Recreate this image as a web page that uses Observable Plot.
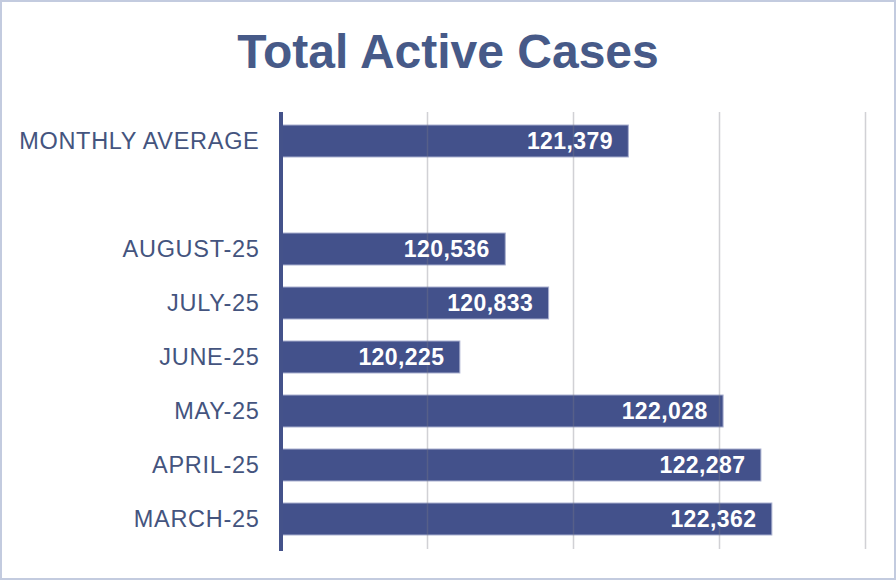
<!DOCTYPE html>
<html>
<head>
<meta charset="utf-8">
<script src="https://cdn.jsdelivr.net/npm/d3@7"></script>
<script src="https://cdn.jsdelivr.net/npm/@observablehq/plot@0.6"></script>
<style>
  html, body { margin: 0; padding: 0; background: #fff; }
  #wrap { position: relative; width: 896px; height: 580px; box-sizing: border-box; border: 2px solid #c3cbdf; background: #fff; overflow: hidden; }
  #title { height: 104px; box-sizing: border-box; padding-top: 26px; text-align: center; font-family: "Liberation Sans Narrow", "Arial Narrow", "Liberation Sans", Arial, sans-serif; font-weight: bold; font-size: 48px; line-height: 48px; color: #475a88; }
  #chart svg { display: block; }
  #chart g[aria-label="y-axis tick label"] { letter-spacing: 0.7px; }
  #chart g[aria-label="text"] { letter-spacing: 0.4px; }
</style>
</head>
<body>
<div id="wrap">
  <div id="title">Total Active Cases</div>
  <div id="chart"></div>
</div>
<script>
// Category order, top to bottom ("" is the blank spacer row)
const categories = ["MONTHLY AVERAGE", "", "AUGUST-25", "JULY-25", "JUNE-25", "MAY-25", "APRIL-25", "MARCH-25"];
const barLabels = ["MONTHLY AVERAGE", "AUGUST-25", "JULY-25", "JUNE-25", "MAY-25", "APRIL-25", "MARCH-25"];
const barValues = [121379, 120536, 120833, 120225, 122028, 122287, 122362];
const gridTicks = [120000, 121000, 122000, 123000];
const xBase = 119000;
const xMax = 123000;

const data = barLabels.map((c, i) => ({category: c, value: barValues[i]}));
const fmt = d3.format(",");
const ink = "#44528a";

const chart = Plot.plot({
  width: 892,
  height: 472,
  marginLeft: 279,
  marginRight: 29,
  marginTop: 6,
  marginBottom: 29,
  style: {fontFamily: "'Liberation Sans', Arial, sans-serif", background: "#fff"},
  x: {domain: [xBase, xMax], axis: null},
  y: {domain: categories, paddingInner: 0.4, paddingOuter: 0.2, label: null},
  marks: [
    Plot.barX(data, {y: "category", x1: xBase, x2: "value", fill: "#43518b", stroke: "#a9b0cf", strokeWidth: 1}),
    Plot.ruleX(gridTicks, {stroke: "#7a7a88", strokeOpacity: 0.35, strokeWidth: 1.5}),
    Plot.ruleX([xBase], {stroke: ink, strokeWidth: 4, dx: -0.5, insetBottom: -2}),
    Plot.text(data, {y: "category", x: "value", text: d => fmt(d.value), textAnchor: "end", dx: -16, fill: "#ffffff", fontWeight: "bold", fontSize: 23}),
    Plot.axisY({tickSize: 0, tickPadding: 22, fontSize: 23.5, fill: "#44547e", tickFormat: d => d})
  ]
});
document.getElementById("chart").appendChild(chart);
</script>
</body>
</html>
